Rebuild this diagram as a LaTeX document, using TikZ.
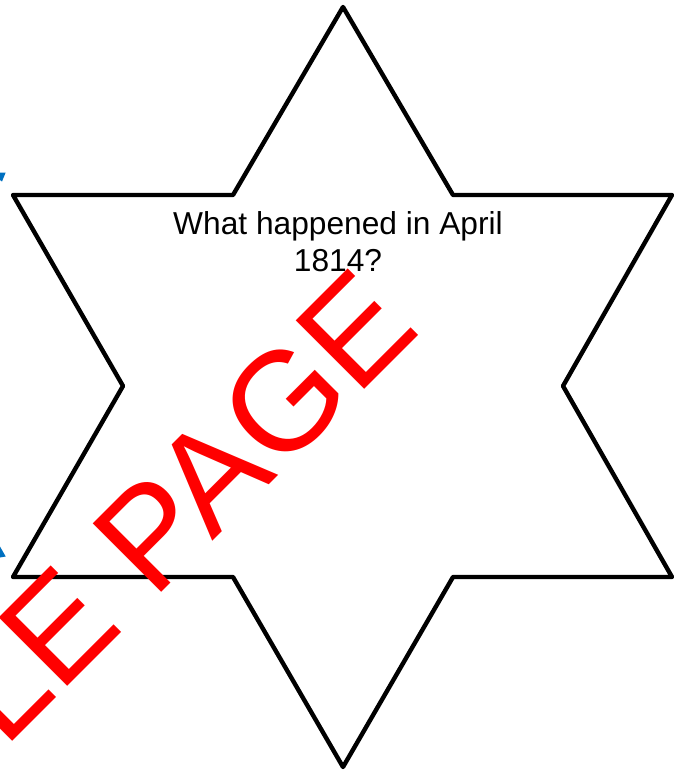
\documentclass[tikz,border=0pt]{standalone}
\usepackage{fontspec}
\setmainfont{Liberation Sans}
\begin{document}
\begin{tikzpicture}[x=1pt,y=-1pt,
  starline/.style={draw=black,line width=4.4pt,line join=round,fill=white},
  bluemark/.style={fill={rgb,255:red,0;green,112;blue,192},draw=none},
  question/.style={inner sep=0pt,align=center,font=\fontsize{31.7}{37}\selectfont},
  watermark/.style={inner sep=0pt,text=red,rotate=45,font=\fontsize{140.8}{160}\selectfont}]
\useasboundingbox (0,0) rectangle (678,773);
\clip (0,0) rectangle (678,773);
% blue fragments at left edge
\fill[bluemark] (0,172.5) -- (5.7,172.5) -- (2,181.5) -- (0,180) -- cycle;
\fill[bluemark] (0,546.5) -- (5.7,556.5) -- (0,557.5) -- cycle;
% star
\coordinate (t)  at (343,7);
\coordinate (tr) at (453,195);
\coordinate (ro1) at (672,195);
\coordinate (ri) at (563,386);
\coordinate (ro2) at (672,577);
\coordinate (br) at (453,577);
\coordinate (b)  at (343,767);
\coordinate (bl) at (233,577);
\coordinate (lo2) at (13,577);
\coordinate (li) at (123,386);
\coordinate (lo1) at (13,195);
\coordinate (tl) at (233,195);
\path[starline] (t) -- (tr) -- (ro1) -- (ri) -- (ro2) -- (br) -- (b) -- (bl) -- (lo2) -- (li) -- (lo1) -- (tl) -- cycle;
\node[question,anchor=base] (q) at (338,271) {What happened in April\\1814?};
% watermark
\node[watermark,anchor=base east] (wm) at (423.2,330.8) {SAMPLE PAGE};
\end{tikzpicture}
\end{document}
